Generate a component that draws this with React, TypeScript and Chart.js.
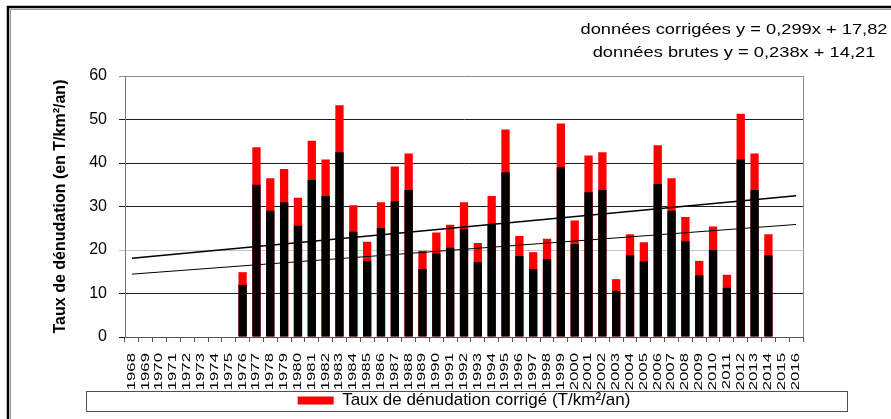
import React, { useEffect, useRef } from "react";
import { Chart, registerables } from "chart.js";

Chart.register(...registerables);

// ---------- data ----------
const years = [
  "1968", "1969", "1970", "1971", "1972", "1973", "1974", "1975", "1976", "1977",
  "1978", "1979", "1980", "1981", "1982", "1983", "1984", "1985", "1986", "1987",
  "1988", "1989", "1990", "1991", "1992", "1993", "1994", "1995", "1996", "1997",
  "1998", "1999", "2000", "2001", "2002", "2003", "2004", "2005", "2006", "2007",
  "2008", "2009", "2010", "2011", "2012", "2013", "2014", "2015", "2016",
];

// raw data (black part)
const rawValues: (number | null)[] = [
  null, null, null, null, null, null, null, null, 12.0, 35.0,
  29.0, 31.0, 25.6, 36.1, 32.4, 42.5, 24.2, 17.5, 25.0, 31.2,
  33.8, 15.6, 19.2, 20.5, 24.8, 17.2, 25.8, 37.9, 18.6, 15.6,
  17.9, 39.0, 21.4, 33.3, 33.8, 10.6, 18.8, 17.4, 35.2, 29.0,
  22.0, 14.2, 20.0, 11.3, 40.8, 33.8, 18.8, null, null,
];

// corrected data (top of red part)
const correctedValues: (number | null)[] = [
  null, null, null, null, null, null, null, null, 14.9, 43.6,
  36.5, 38.6, 32.0, 45.1, 40.8, 53.3, 30.3, 21.9, 31.0, 39.2,
  42.2, 19.8, 24.0, 25.8, 31.0, 21.6, 32.4, 47.7, 23.2, 19.5,
  22.6, 49.1, 26.8, 41.7, 42.5, 13.3, 23.6, 21.8, 44.1, 36.5,
  27.6, 17.5, 25.4, 14.3, 51.3, 42.2, 23.6, null, null,
];

// trend line end points
const trendYears = ["1968", "2016"];
const trendCorrected = [18.12, 32.47];
const trendRaw = [14.45, 25.87];

const yTicks = [0, 10, 20, 30, 40, 50, 60];

const equationLines = [
  "données corrigées y = 0,299x + 17,82",
  "données brutes y = 0,238x + 14,21",
];
const legendLabel = "Taux de dénudation corrigé (T/km²/an)";
const rawLabel = "Taux de dénudation brut (T/km²/an)";
const yTitle = "Taux de dénudation (en T/km²/an)";

const FONT = '"Liberation Sans", Arial, sans-serif';

const decorPlugin = {
  id: "decor",
  beforeDraw(chart: any) {
    const ctx = chart.ctx;
    ctx.save();
    ctx.fillStyle = "#ffffff";
    ctx.fillRect(0, 0, chart.width, chart.height);
    ctx.restore();
  },
  afterDraw(chart: any) {
    const ctx = chart.ctx as CanvasRenderingContext2D;
    const a = chart.chartArea;
    const x = chart.scales.x;
    ctx.save();

    // right border of plot area
    ctx.strokeStyle = "#8c8c8c";
    ctx.lineWidth = 1;
    ctx.beginPath();
    ctx.moveTo(Math.round(a.right) + 0.5, a.top);
    ctx.lineTo(Math.round(a.right) + 0.5, a.bottom);
    ctx.stroke();

    // x tick labels (vertical, stretched)
    ctx.fillStyle = "#000";
    ctx.font = `10.5px ${FONT}`;
    ctx.textAlign = "right";
    ctx.textBaseline = "middle";
    years.forEach((lab, i) => {
      const px = x.getPixelForTick(i);
      ctx.save();
      ctx.translate(px, a.bottom + 16);
      ctx.rotate(-Math.PI / 2);
      ctx.scale(1.6, 1);
      ctx.fillText(lab, 0, 0);
      ctx.restore();
    });

    // regression equations
    ctx.font = `15.5px ${FONT}`;
    ctx.textAlign = "center";
    const cx = chart.width - 157;
    equationLines.forEach((t, i) => {
      ctx.save();
      ctx.translate(cx, 30 + i * 23);
      ctx.scale(1.18, 1);
      ctx.fillText(t, 0, 0);
      ctx.restore();
    });

    // legend frame
    const lg = chart.legend;
    if (lg && lg.legendHitBoxes && lg.legendHitBoxes.length) {
      const hb = lg.legendHitBoxes[0];
      const cy = hb.top + hb.height / 2;
      ctx.strokeStyle = "#505050";
      ctx.lineWidth = 1;
      ctx.strokeRect(Math.round(a.left - 39) + 0.5, Math.round(cy - 10) + 0.5, Math.round(a.right - a.left + 83), 20);
    }

    // outer frame
    ctx.strokeStyle = "#000";
    ctx.lineWidth = 2.5;
    ctx.strokeRect(8, 7, chart.width + 20, chart.height + 20);
    ctx.strokeStyle = "#9a9a9a";
    ctx.lineWidth = 1;
    ctx.strokeRect(10.5, 9.5, chart.width + 20, chart.height + 20);
    ctx.restore();
  },
};

export default function App() {
  const canvasRef = useRef<HTMLCanvasElement | null>(null);

  useEffect(() => {
    if (!canvasRef.current) return;
    const chart = new Chart(canvasRef.current, {
      type: "bar",
      data: {
        labels: years,
        datasets: [
          {
            type: "line",
            label: "trend corrected",
            data: trendYears.map((t, i) => ({ x: t, y: trendCorrected[i] })) as any,
            borderColor: "#000",
            borderWidth: 1.5,
            pointRadius: 0,
            fill: false,
            order: 0,
          },
          {
            type: "line",
            label: "trend raw",
            data: trendYears.map((t, i) => ({ x: t, y: trendRaw[i] })) as any,
            borderColor: "#000",
            borderWidth: 1,
            pointRadius: 0,
            fill: false,
            order: 0,
          },
          {
            label: rawLabel,
            data: rawValues,
            backgroundColor: "#000000",
            borderWidth: 0,
            barPercentage: 0.6,
            categoryPercentage: 1.0,
            order: 1,
          },
          {
            label: legendLabel,
            data: correctedValues,
            backgroundColor: "#ff0000",
            borderWidth: 0,
            barPercentage: 0.6,
            categoryPercentage: 1.0,
            order: 2,
          },
        ],
      },
      options: {
        responsive: false,
        animation: false,
        layout: { padding: { top: 76, right: 88, bottom: 0, left: 0 } },
        plugins: {
          tooltip: { enabled: false },
          title: { display: false },
          legend: {
            display: true,
            position: "bottom",
            fullSize: false,
            labels: {
              boxWidth: 36,
              boxHeight: 8,
              padding: 2,
              color: "#000",
              font: { family: FONT, size: 17 },
              filter: (item: any) => item.text === legendLabel,
            },
          },
        },
        scales: {
          x: {
            type: "category",
            stacked: true,
            offset: true,
            afterFit: (s: any) => {
              s.height = 53;
            },
            grid: {
              offset: true,
              drawOnChartArea: false,
              drawTicks: true,
              tickLength: 5,
              color: "#555",
            },
            border: { display: true, color: "#555", width: 1 },
            ticks: { display: false, autoSkip: false },
          },
          y: {
            stacked: false,
            min: yTicks[0],
            max: yTicks[yTicks.length - 1],
            afterFit: (s: any) => {
              s.width = 125;
            },
            ticks: {
              stepSize: yTicks[1] - yTicks[0],
              color: "#000",
              padding: 12,
              font: { family: FONT, size: 16 },
            },
            grid: {
              drawTicks: true,
              tickLength: 6,
              color: (c: any) => {
                const v = c.tick ? c.tick.value : 0;
                if (v === 20) return "#c4c4c4";
                if (v === 60) return "#8c8c8c";
                return "#1e1e1e";
              },
            },
            border: { display: true, color: "#777", width: 1 },
            title: {
              display: true,
              text: yTitle,
              color: "#000",
              font: { family: FONT, size: 16, weight: "bold" },
              padding: { top: 51, bottom: 0 },
            },
          },
        },
      },
      plugins: [decorPlugin],
    });
    return () => chart.destroy();
  }, []);

  return (
    <div style={{ position: "absolute", left: 0, top: 0, width: 891, height: 419 }}>
      <canvas ref={canvasRef} width={891} height={419} style={{ display: "block" }} />
    </div>
  );
}
